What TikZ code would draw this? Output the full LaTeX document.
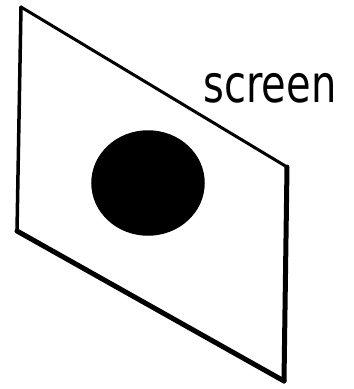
\documentclass[tikz,border=0pt]{standalone}
\usepackage{fontspec}
\usetikzlibrary{shapes.geometric}
\newfontfamily\handfont{DejaVu Sans}
\begin{document}
\begin{tikzpicture}[x=1pt,y=-1pt,
  edge/.style={line width=#1, line cap=round, line join=round},
  spot/.style={fill=black, draw=black, line width=1.5pt},
  lbl/.style={font=\handfont\fontsize{40}{40}\selectfont, inner sep=0pt, yscale=1.3}]
\useasboundingbox (0,0) rectangle (354,389);
\coordinate (tl) at (21,7);
\coordinate (tr) at (287,167);
\coordinate (br) at (284,381);
\coordinate (bl) at (17,231);
\draw[edge=3pt] (tl) -- (tr);
\draw[edge=3.5pt] (tl) -- (bl);
\draw[edge=5pt] (bl) -- (br);
\draw[edge=5pt] (tr) -- (br);
\node[spot, ellipse, minimum width=112pt, minimum height=104pt, inner sep=0pt] (disk) at (148,183) {};
\node[lbl] (screen) at (270,88) {screen};
\end{tikzpicture}
\end{document}
